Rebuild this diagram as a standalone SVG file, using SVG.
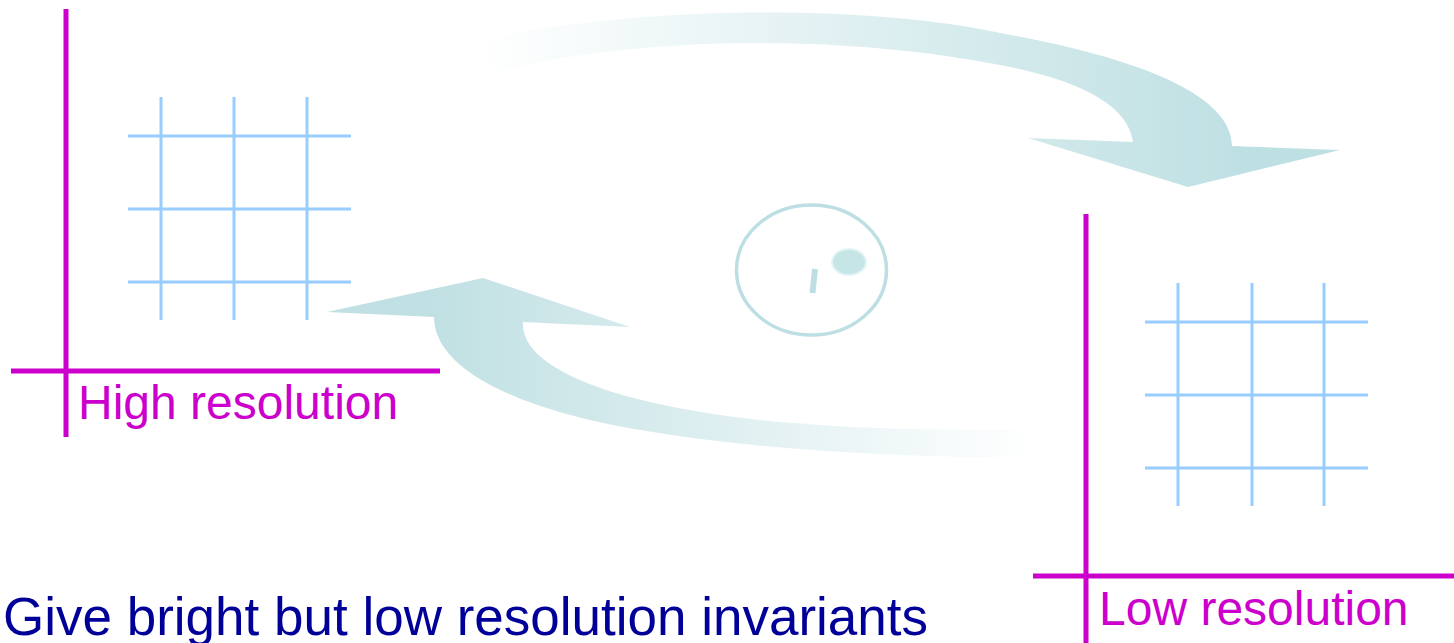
<svg xmlns="http://www.w3.org/2000/svg" width="1454" height="643" viewBox="0 0 1454 643">
<style>
.axis{stroke:#CC00CC;stroke-width:5;fill:none}
.grid{stroke:#99CCFF;stroke-width:3;fill:none}
.lbl{font-family:"Liberation Sans",Arial,sans-serif;font-size:48px;fill:#CC00CC}
.cap{font-family:"Liberation Sans",Arial,sans-serif;font-size:53px;fill:#000099}
</style>
<defs>
<linearGradient id="gTop" gradientUnits="userSpaceOnUse" x1="480" y1="0" x2="1240" y2="0">
<stop offset="0" stop-color="#FFFFFF"/>
<stop offset="1" stop-color="#BFE0E3"/>
</linearGradient>
<linearGradient id="gBot" gradientUnits="userSpaceOnUse" x1="1035" y1="0" x2="430" y2="0">
<stop offset="0" stop-color="#FFFFFF"/>
<stop offset="1" stop-color="#C0E0E3"/>
</linearGradient>
</defs>
<g id="connectors">
<path id="arrow-top" fill="url(#gTop)" d="M1028,138 L1133,142 C1128,105 1080,80 1000,65 C850,36 650,33 495,72 Q478,56 490,38 C650,5 870,5 1000,33 C1140,58 1232,95 1232,146 L1340,150 L1188,187 Z"/>
<path id="arrow-bottom" fill="url(#gBot)" d="M327,312 L483,278 L630,327 L523,322 C520,370 620,405 760,420 C860,430 950,430 1030,430 Q1040,444 1030,457 C900,458 760,450 640,430 C520,410 434,370 434,317 Z"/>
</g>
<g id="high-resolution">
<line class="axis" x1="66" y1="9" x2="66" y2="437"/>
<line class="axis" x1="11" y1="371" x2="440" y2="371"/>
<line class="grid" x1="161" y1="97" x2="161" y2="320"/>
<line class="grid" x1="234" y1="97" x2="234" y2="320"/>
<line class="grid" x1="307" y1="97" x2="307" y2="320"/>
<line class="grid" x1="128" y1="136" x2="351" y2="136"/>
<line class="grid" x1="128" y1="209" x2="351" y2="209"/>
<line class="grid" x1="128" y1="282" x2="351" y2="282"/>
<text class="lbl" x="78" y="419">High resolution</text>
</g>
<g id="low-resolution">
<line class="axis" x1="1086" y1="214" x2="1086" y2="643"/>
<line class="axis" x1="1033" y1="576" x2="1454" y2="576"/>
<line class="grid" x1="1178" y1="283" x2="1178" y2="506"/>
<line class="grid" x1="1252" y1="283" x2="1252" y2="506"/>
<line class="grid" x1="1324" y1="283" x2="1324" y2="506"/>
<line class="grid" x1="1145" y1="322" x2="1368" y2="322"/>
<line class="grid" x1="1145" y1="395" x2="1368" y2="395"/>
<line class="grid" x1="1145" y1="468" x2="1368" y2="468"/>
<text class="lbl" x="1099" y="625">Low resolution</text>
</g>
<g id="center-symbol">
<ellipse cx="811.5" cy="270" rx="75" ry="65" fill="none" stroke="#BDDFE3" stroke-width="3.5"/>
<ellipse cx="849" cy="262" rx="17" ry="13" fill="#C6E5E7" stroke="#E4F3F4" stroke-width="2"/>
<line x1="815" y1="269" x2="812.5" y2="293" stroke="#BDDFE3" stroke-width="6"/>
</g>
<g id="caption">
<text class="cap" x="3" y="635">Give bright but low resolution invariants</text>
</g>
</svg>
